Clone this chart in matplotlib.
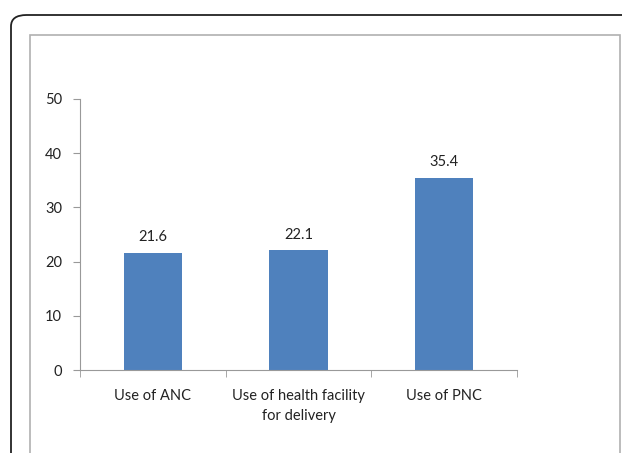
import matplotlib.pyplot as plt
from matplotlib.patches import FancyBboxPatch, Rectangle

categories = ['Use of ANC', 'Use of health facility\nfor delivery', 'Use of PNC']
values = [21.6, 22.1, 35.4]
yticks = [0, 10, 20, 30, 40, 50]

W, H = 622, 453
fig = plt.figure(figsize=(W / 100, H / 100), dpi=100)
plt.rcParams['font.family'] = ['Lato', 'DejaVu Sans']

# outer black frame (rounded corner, runs off right and bottom)
fig.patches.append(FancyBboxPatch((11 / W, -0.05), 1.05, (H - 15) / H + 0.05,
                                  boxstyle='round,pad=0,rounding_size=0.025',
                                  transform=fig.transFigure, fill=False,
                                  edgecolor='#222222', linewidth=1.3))
# inner gray chart-area frame
fig.patches.append(Rectangle((30 / W, -0.05), (620 - 30) / W, (H - 35) / H + 0.05,
                             transform=fig.transFigure, fill=False,
                             edgecolor='#b0b0b0', linewidth=1.2))

ax = fig.add_axes([80 / W, 1 - 370 / H, (517 - 80) / W, (370 - 99) / H])
x = range(len(categories))
bars = ax.bar(x, values, width=0.4, color='#4F81BD')
for b, v in zip(bars, values):
    ax.text(b.get_x() + b.get_width() / 2, v + 1.6, f'{v}', ha='center',
            va='bottom', fontsize=10.5, color='#222222')

ax.set_xlim(-0.5, len(categories) - 0.5)
ax.set_ylim(0, 50)
ax.set_yticks(yticks)
ax.set_xticks(x)
ax.set_xticklabels(categories, fontsize=10.5, color='#222222', linespacing=1.5)
ax.tick_params(axis='x', length=0, pad=14)
ax.set_xticks([-0.5, 0.5, 1.5, 2.5], minor=True)
ax.tick_params(axis='x', which='minor', length=5, color='#999999')
ax.tick_params(axis='y', length=5, color='#999999', labelsize=10.5,
               labelcolor='#222222', pad=8)
for s in ['top', 'right']:
    ax.spines[s].set_visible(False)
for s in ['left', 'bottom']:
    ax.spines[s].set_color('#999999')

fig.savefig('out.png', dpi=100)
